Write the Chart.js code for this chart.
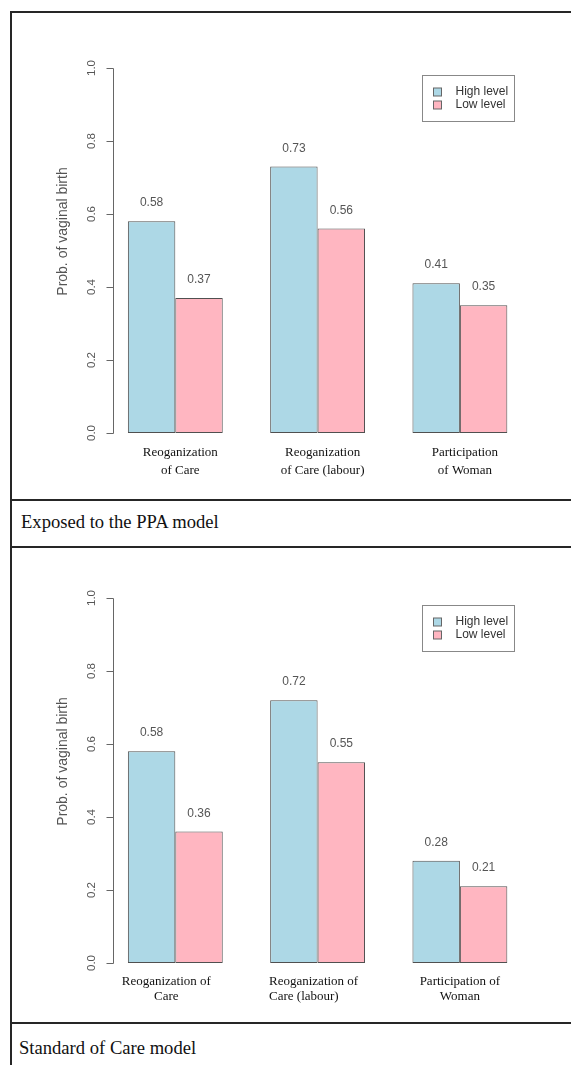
<!DOCTYPE html>
<html>
<head>
<meta charset="utf-8">
<script src="https://cdn.jsdelivr.net/npm/chart.js@4.4.1/dist/chart.umd.min.js"></script>
<style>
  body { margin: 0; background: #fff; }
  #page { position: relative; width: 571px; height: 1065px; overflow: hidden; background: #fff; }
  .hline { position: absolute; left: 10px; width: 561px; height: 2px; background: #262626; }
  .vline { position: absolute; left: 10px; top: 11px; width: 2px; height: 1054px; background: #262626; }
  .caption { position: absolute; font-family: "Liberation Serif", serif; font-size: 18.6px; line-height: 18px; color: #111; white-space: nowrap; }
  canvas { position: absolute; left: 12px; }
</style>
</head>
<body>
<div id="page">
  <div class="hline" style="top:11px"></div>
  <div class="vline"></div>
  <canvas id="ppaChart" width="559" height="486" style="top:14px"></canvas>
  <div class="hline" style="top:499px"></div>
  <div class="caption" style="left:21px; top:513px">Exposed to the PPA model</div>
  <div class="hline" style="top:546px"></div>
  <canvas id="socChart" width="559" height="474" style="top:549px"></canvas>
  <div class="hline" style="top:1022px"></div>
  <div class="caption" style="left:19px; top:1039px">Standard of Care model</div>
</div>
<script>
const categories = ['Reoganization of Care', 'Reoganization of Care (labour)', 'Participation of Woman'];
const seriesNames = ['High level', 'Low level'];
const seriesColors = ['#ADD8E6', '#FFB6C1'];
const yTicks = [0, 0.2, 0.4, 0.6, 0.8, 1.0];
const yTitle = 'Prob. of vaginal birth';

// Exposed to the PPA model
const ppaHigh = [0.58, 0.73, 0.41];
const ppaLow = [0.37, 0.56, 0.35];
const ppaTickLabels = [['Reoganization', 'of Care'], ['Reoganization', 'of Care (labour)'], ['Participation', 'of Woman']];

// Standard of Care model
const socHigh = [0.58, 0.72, 0.28];
const socLow = [0.36, 0.55, 0.21];
const socTickLabels = [['Reoganization of', 'Care'], ['Reoganization of', 'Care (labour)'], ['Participation of', 'Woman']];

const SANS = '"Liberation Sans", Arial, sans-serif';
const SERIF = '"Liberation Serif", "Times New Roman", serif';
const AXIS_GREY = '#666';
const TEXT_GREY = '#555';

// draws the R barplot look: axis, rotated tick labels, bar values, category names, boxed legend
const rStyle = {
    id: 'rStyle',
    afterDraw(chart, args, o) {
        const ctx = chart.ctx;
        const xs = chart.scales.x, ys = chart.scales.y;
        const area = chart.chartArea;
        const left = Math.round(area.left) + 0.5;
        ctx.save();

        // y axis line + ticks
        ctx.strokeStyle = AXIS_GREY;
        ctx.lineWidth = 1;
        ctx.beginPath();
        ctx.moveTo(left, Math.round(ys.getPixelForValue(yTicks[0])) + 0.5);
        ctx.lineTo(left, Math.round(ys.getPixelForValue(yTicks[yTicks.length - 1])) + 0.5);
        yTicks.forEach(t => {
            const y = Math.round(ys.getPixelForValue(t)) + 0.5;
            ctx.moveTo(left - 7, y);
            ctx.lineTo(left, y);
        });
        ctx.stroke();

        // tick labels (rotated like R's las=0)
        ctx.fillStyle = TEXT_GREY;
        ctx.font = '11.5px ' + SANS;
        ctx.textAlign = 'center';
        ctx.textBaseline = 'middle';
        yTicks.forEach(t => {
            ctx.save();
            ctx.translate(left - 22, ys.getPixelForValue(t));
            ctx.rotate(-Math.PI / 2);
            ctx.fillText(t.toFixed(1), 0, 0);
            ctx.restore();
        });

        // axis title
        ctx.save();
        ctx.font = '14px ' + SANS;
        ctx.translate(left - 50, (area.top + area.bottom) / 2 - 19);
        ctx.rotate(-Math.PI / 2);
        ctx.fillText(yTitle, 0, 0);
        ctx.restore();

        // value labels above the bars
        ctx.font = '12px ' + SANS;
        chart.data.datasets.forEach((ds, di) => {
            const meta = chart.getDatasetMeta(di);
            meta.data.forEach((bar, i) => {
                const v = ds.data[i].y;
                ctx.fillText(v.toFixed(2), bar.x, ys.getPixelForValue(v + 0.05));
            });
        });

        // category labels
        ctx.fillStyle = '#111';
        ctx.font = '13px ' + SERIF;
        o.tickLabels.forEach((lines, i) => {
            const cx = xs.getPixelForValue(i) + o.labelShift[i];
            let y = area.bottom + o.labelTop;
            if (o.leftAlign[i]) {
                const w = ctx.measureText(lines[0]).width;
                ctx.textAlign = 'left';
                lines.forEach(line => { ctx.fillText(line, cx - w / 2, y); y += o.lineGap; });
            } else {
                ctx.textAlign = 'center';
                lines.forEach(line => { ctx.fillText(line, cx, y); y += o.lineGap; });
            }
        });

        // legend box
        const bw = 92, bh = 46;
        const bx = Math.round(area.right - 8.5 - bw) + 0.5;
        const by = Math.round(area.top + 7) + 0.5;
        ctx.strokeStyle = '#888';
        ctx.strokeRect(bx, by, bw, bh);
        ctx.font = '12px ' + SANS;
        ctx.textAlign = 'left';
        chart.data.datasets.forEach((ds, di) => {
            const ry = by + 16 + di * 13.5;
            ctx.fillStyle = ds.backgroundColor;
            ctx.fillRect(bx + 11, Math.round(ry - 4), 8, 8);
            ctx.strokeStyle = AXIS_GREY;
            ctx.strokeRect(bx + 11, Math.round(ry - 4), 8, 8);
            ctx.fillStyle = '#333';
            ctx.fillText(ds.label, bx + 33, ry);
        });

        ctx.restore();
    }
};

function makeChart(id, high, low, labelOpts, pad) {
    const series = [high, low];
    return new Chart(document.getElementById(id), {
        type: 'bar',
        data: {
            datasets: series.map((vals, s) => ({
                label: seriesNames[s],
                data: vals.map((v, i) => ({ x: i, y: v })),
                backgroundColor: seriesColors[s],
                borderColor: '#505050',
                borderWidth: 1,
                borderSkipped: false,
                categoryPercentage: 2 / 3,
                barPercentage: 1
            }))
        },
        options: {
            responsive: false,
            animation: false,
            layout: { padding: pad },
            plugins: {
                legend: { display: false },
                tooltip: { enabled: false },
                rStyle: labelOpts
            },
            scales: {
                x: {
                    type: 'linear',
                    display: false,
                    min: -0.44,
                    max: 2.44,
                    offset: false,
                    ticks: { stepSize: 1, includeBounds: false }
                },
                y: { display: false, min: 0, max: 1 }
            }
        },
        plugins: [rStyle]
    });
}

makeChart('ppaChart', ppaHigh, ppaLow, {
    tickLabels: ppaTickLabels,
    labelShift: [5, 5, 5],
    leftAlign: [false, false, false],
    labelTop: 20,
    lineGap: 18
}, { left: 100.7, right: 48.5, top: 54, bottom: 67 });

makeChart('socChart', socHigh, socLow, {
    tickLabels: socTickLabels,
    labelShift: [-9, -4, 0],
    leftAlign: [false, true, false],
    labelTop: 19,
    lineGap: 14.5
}, { left: 100.7, right: 48.5, top: 49, bottom: 60 });
</script>
</body>
</html>
